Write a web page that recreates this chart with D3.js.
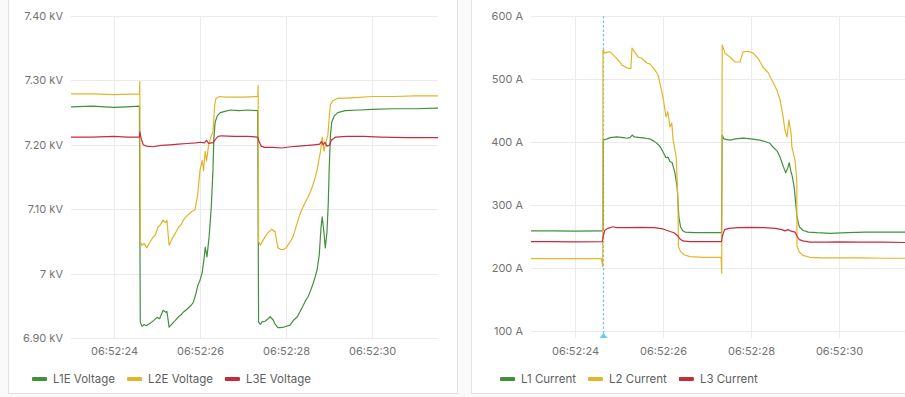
<!DOCTYPE html>
<html>
<head>
<meta charset="utf-8">
<script src="https://cdn.jsdelivr.net/npm/d3@7"></script>
<style>
  html, body { margin: 0; padding: 0; background: #fafafa; }
  svg { display: block; }
  text { font-family: Inter, Roboto, "Noto Sans", sans-serif; }
</style>
</head>
<body>
<svg id="chart" width="905" height="397"></svg>
<script>
// ---------- DATA (seconds after 06:52:00, value) ----------
const xTickSeconds = [24, 26, 28, 30];

const voltageTickValues = [6.90, 7.00, 7.10, 7.20, 7.30, 7.40];
const voltageTickLabels = ["6.90 kV", "7 kV", "7.10 kV", "7.20 kV", "7.30 kV", "7.40 kV"];
const currentTickValues = [100, 200, 300, 400, 500, 600];
const currentTickLabels = ["100 A", "200 A", "300 A", "400 A", "500 A", "600 A"];

const voltageSeriesNames = ["L1E Voltage", "L2E Voltage", "L3E Voltage"];
const currentSeriesNames = ["L1 Current", "L2 Current", "L3 Current"];

const L1E = [[23.0,7.259],[23.5,7.260],[24.0,7.258],[24.3,7.259],[24.59,7.260],[24.61,6.925],[24.65,6.918],[24.70,6.921],[24.75,6.919],[24.84,6.923],[24.92,6.927],[25.00,6.932],[25.06,6.930],[25.14,6.943],[25.20,6.940],[25.23,6.941],[25.28,6.917],[25.35,6.922],[25.42,6.927],[25.50,6.933],[25.56,6.936],[25.61,6.940],[25.70,6.945],[25.78,6.950],[25.84,6.955],[25.90,6.968],[25.95,6.982],[26.00,6.990],[26.05,7.002],[26.09,7.022],[26.12,7.041],[26.16,7.026],[26.21,7.057],[26.26,7.103],[26.30,7.161],[26.32,7.210],[26.35,7.235],[26.40,7.245],[26.47,7.250],[26.58,7.252],[26.70,7.254],[26.90,7.253],[27.10,7.254],[27.34,7.253],[27.36,6.925],[27.40,6.921],[27.44,6.925],[27.51,6.926],[27.58,6.930],[27.63,6.933],[27.70,6.928],[27.74,6.922],[27.81,6.916],[27.86,6.916],[27.95,6.917],[28.09,6.920],[28.18,6.928],[28.26,6.933],[28.33,6.942],[28.40,6.951],[28.45,6.958],[28.51,6.964],[28.56,6.972],[28.63,6.985],[28.68,6.996],[28.72,7.006],[28.77,7.029],[28.81,7.071],[28.84,7.088],[28.86,7.075],[28.88,7.063],[28.91,7.040],[28.95,7.065],[28.98,7.110],[29.00,7.161],[29.03,7.215],[29.06,7.235],[29.12,7.245],[29.20,7.250],[29.37,7.253],[29.70,7.254],[30.00,7.255],[30.50,7.256],[31.00,7.256],[31.53,7.257]];

const L2E = [[23.0,7.279],[23.5,7.279],[24.0,7.278],[24.59,7.279],[24.60,7.298],[24.61,7.050],[24.65,7.044],[24.70,7.047],[24.76,7.040],[24.84,7.049],[24.90,7.056],[24.96,7.060],[25.02,7.072],[25.08,7.076],[25.14,7.083],[25.20,7.079],[25.23,7.083],[25.28,7.044],[25.35,7.054],[25.42,7.062],[25.50,7.072],[25.56,7.076],[25.61,7.083],[25.70,7.090],[25.80,7.096],[25.88,7.099],[25.94,7.120],[26.00,7.161],[26.05,7.176],[26.08,7.160],[26.12,7.190],[26.15,7.175],[26.20,7.200],[26.25,7.212],[26.30,7.220],[26.34,7.262],[26.37,7.272],[26.45,7.275],[26.60,7.274],[27.00,7.274],[27.34,7.275],[27.35,7.292],[27.36,7.050],[27.40,7.044],[27.45,7.050],[27.51,7.057],[27.57,7.063],[27.67,7.069],[27.72,7.065],[27.74,7.066],[27.81,7.040],[27.86,7.038],[27.93,7.037],[28.00,7.040],[28.08,7.048],[28.16,7.057],[28.24,7.075],[28.33,7.094],[28.44,7.110],[28.52,7.120],[28.61,7.135],[28.68,7.150],[28.72,7.161],[28.76,7.176],[28.80,7.190],[28.84,7.212],[28.88,7.190],[28.93,7.205],[28.97,7.215],[29.00,7.240],[29.03,7.262],[29.08,7.268],[29.19,7.272],[29.50,7.273],[30.00,7.275],[30.50,7.275],[31.00,7.276],[31.53,7.276]];

const L3E = [[23.0,7.212],[23.5,7.212],[24.0,7.213],[24.3,7.212],[24.59,7.212],[24.60,7.220],[24.63,7.210],[24.68,7.200],[24.75,7.198],[24.90,7.197],[25.10,7.199],[25.30,7.200],[25.50,7.201],[25.70,7.202],[25.90,7.203],[26.00,7.204],[26.10,7.203],[26.15,7.207],[26.20,7.202],[26.25,7.203],[26.30,7.203],[26.35,7.208],[26.42,7.213],[26.50,7.214],[26.80,7.213],[27.10,7.213],[27.34,7.212],[27.36,7.207],[27.42,7.198],[27.50,7.196],[27.70,7.196],[27.90,7.195],[28.10,7.197],[28.30,7.198],[28.50,7.199],[28.65,7.200],[28.78,7.201],[28.82,7.205],[28.86,7.200],[28.90,7.204],[28.95,7.198],[29.00,7.199],[29.05,7.207],[29.15,7.212],[29.40,7.213],[29.80,7.213],[30.20,7.212],[30.80,7.211],[31.53,7.211]];

const L1A = [[23.0,259],[23.5,259],[24.0,258.5],[24.62,259],[24.636,259],[24.64,403],[24.68,404],[24.73,405],[24.80,407],[24.95,408],[25.10,407],[25.18,406],[25.25,407],[25.30,411],[25.35,408],[25.48,407],[25.60,406],[25.70,405],[25.80,401],[25.86,398],[25.93,393],[25.98,387],[26.07,375],[26.11,376],[26.16,369],[26.21,367],[26.27,351],[26.32,329],[26.34,308],[26.36,281],[26.40,265],[26.45,259],[26.50,257],[26.70,256],[27.00,256],[27.33,256],[27.345,411],[27.38,405],[27.52,403],[27.65,405],[27.82,406],[28.00,405],[28.20,403],[28.35,400],[28.43,398],[28.50,392],[28.60,385],[28.66,376],[28.73,362],[28.79,351],[28.84,360],[28.87,367],[28.91,352],[28.93,348],[28.98,329],[29.02,300],[29.045,281],[29.10,265],[29.18,260],[29.30,257],[29.50,256],[29.80,255],[30.20,256],[30.60,257],[31.00,257],[31.50,257]];

const L2A = [[23.0,215],[23.5,215],[24.0,215],[24.60,215],[24.63,202],[24.636,546],[24.68,541],[24.75,543],[24.80,543],[24.91,535],[25.02,527],[25.07,522],[25.20,517],[25.27,517],[25.295,549],[25.43,535],[25.52,533],[25.64,525],[25.70,524],[25.82,514],[25.89,506],[25.95,487],[26.00,471],[26.07,440],[26.11,448],[26.16,424],[26.20,430],[26.23,403],[26.30,376],[26.34,308],[26.35,234],[26.40,226],[26.48,221],[26.61,218],[26.90,217],[27.20,217],[27.32,217],[27.335,192],[27.345,554],[27.41,541],[27.52,535],[27.64,527],[27.75,527],[27.82,543],[27.93,544],[28.05,541],[28.16,533],[28.27,519],[28.39,510],[28.50,495],[28.59,482],[28.66,467],[28.73,440],[28.77,419],[28.82,408],[28.86,435],[28.91,414],[28.93,392],[29.00,371],[29.04,340],[29.045,235],[29.10,225],[29.18,220],[29.34,217],[29.60,216],[30.00,216],[30.50,216],[31.00,215.5],[31.50,215.5]];

const L3A = [[23.0,242],[23.5,242],[24.0,241.5],[24.62,242],[24.64,250],[24.68,260],[24.75,263],[24.86,265.5],[24.95,264],[25.20,264],[25.50,264.5],[25.80,264],[26.00,262],[26.16,258],[26.25,256],[26.32,252],[26.39,246],[26.45,243],[26.60,242],[27.00,242],[27.33,242],[27.345,250],[27.40,261],[27.50,263],[27.70,264],[28.00,264.5],[28.30,264],[28.55,263],[28.70,261],[28.77,259],[28.84,261],[28.89,259],[29.00,257],[29.05,250],[29.10,245],[29.18,243],[29.34,241],[29.70,241],[30.00,241.5],[30.50,241],[31.00,241],[31.50,240.5]];

const cursorSecond = 24.636;

// ---------- RENDER ----------
const colors = ["#41913c", "#e3b52a", "#c62c3e"];
const base = new Date(2000, 0, 1, 6, 52, 0).getTime();
const toDate = s => new Date(base + s * 1000);
const fmt = d3.timeFormat("%H:%M:%S");

const svg = d3.select("#chart");

// panels
svg.append("rect").attr("x", 8.5).attr("y", -5).attr("width", 449).attr("height", 398.5)
  .attr("fill", "#fff").attr("stroke", "#e2e2e2");
svg.append("rect").attr("x", 471.5).attr("y", -5).attr("width", 440).attr("height", 398.5)
  .attr("fill", "#fff").attr("stroke", "#e2e2e2");

function panel(cfg) {
  const g = svg.append("g");
  const x = d3.scaleTime().domain([toDate(23.0), toDate(cfg.tMax)]).range([cfg.left, cfg.right]);
  const y = d3.scaleLinear().domain(cfg.yDomain).range(cfg.yRange);
  const tickDates = xTickSeconds.map(toDate);

  // grid
  g.append("g").selectAll("line").data(cfg.yTicks).join("line")
    .attr("x1", cfg.left).attr("x2", cfg.right)
    .attr("y1", d => Math.round(y(d)) + 0.5).attr("y2", d => Math.round(y(d)) + 0.5)
    .attr("stroke", "#ebebeb");
  g.append("g").selectAll("line").data(tickDates).join("line")
    .attr("x1", d => Math.round(x(d)) + 0.5).attr("x2", d => Math.round(x(d)) + 0.5)
    .attr("y1", cfg.yRange[1]).attr("y2", cfg.bottom)
    .attr("stroke", "#ebebeb");

  // axes
  const ya = g.append("g").attr("transform", `translate(${cfg.left},0)`)
    .call(d3.axisLeft(y).tickValues(cfg.yTicks).tickSize(0).tickPadding(8)
      .tickFormat((d, i) => cfg.yLabels[i]));
  const xa = g.append("g").attr("transform", `translate(0,${cfg.bottom})`)
    .call(d3.axisBottom(x).tickValues(tickDates).tickSize(0).tickPadding(9).tickFormat(fmt));
  [ya, xa].forEach(a => {
    a.select(".domain").remove();
    a.selectAll("text").attr("fill", "#737373").style("font-size", "11px");
  });

  // cursor
  if (cfg.cursor != null) {
    const cx = Math.round(x(toDate(cfg.cursor))) + 0.5;
    g.append("line").attr("x1", cx).attr("x2", cx).attr("y1", cfg.yRange[1]).attr("y2", cfg.bottom - 4)
      .attr("stroke", "#6cc8f2").attr("stroke-width", 1.2).attr("stroke-dasharray", "2.5,2");
    g.append("path").attr("d", `M${cx - 4},${cfg.bottom} L${cx},${cfg.bottom - 5} L${cx + 4},${cfg.bottom} Z`)
      .attr("fill", "#6cc8f2");
  }

  // lines
  const line = d3.line().x(d => x(toDate(d[0]))).y(d => y(d[1]));
  const clipId = "clip" + cfg.left;
  svg.append("clipPath").attr("id", clipId).append("rect")
    .attr("x", cfg.left).attr("y", 0).attr("width", cfg.right - cfg.left).attr("height", cfg.bottom);
  const lg = g.append("g").attr("clip-path", `url(#${clipId})`);
  cfg.series.forEach((s, i) => {
    lg.append("path").datum(s).attr("d", line).attr("fill", "none")
      .attr("stroke", colors[i]).attr("stroke-width", 1.2).attr("stroke-linejoin", "round");
  });

  // legend
  const leg = g.append("g").attr("transform", `translate(${cfg.legendX},379)`);
  let ox = 0;
  cfg.names.forEach((n, i) => {
    leg.append("rect").attr("x", ox).attr("y", -2).attr("width", 15).attr("height", 4).attr("rx", 1)
      .attr("fill", colors[i]);
    const t = leg.append("text").attr("x", ox + 21).attr("y", 0).attr("dy", "0.35em")
      .attr("fill", "#5e5e5e").style("font-size", "11.5px").text(n);
    ox += 21 + t.node().getComputedTextLength() + 12;
  });
}

panel({
  left: 71, right: 438, tMax: 31.53, bottom: 338,
  yDomain: [6.90, 7.40], yRange: [338, 16],
  yTicks: voltageTickValues, yLabels: voltageTickLabels,
  series: [L1E, L2E, L3E], names: voltageSeriesNames, legendX: 32, cursor: null
});
panel({
  left: 531, right: 905, tMax: 31.5, bottom: 338,
  yDomain: [100, 600], yRange: [331, 16],
  yTicks: currentTickValues, yLabels: currentTickLabels,
  series: [L1A, L2A, L3A], names: currentSeriesNames, legendX: 500, cursor: cursorSecond
});
</script>
</body>
</html>
